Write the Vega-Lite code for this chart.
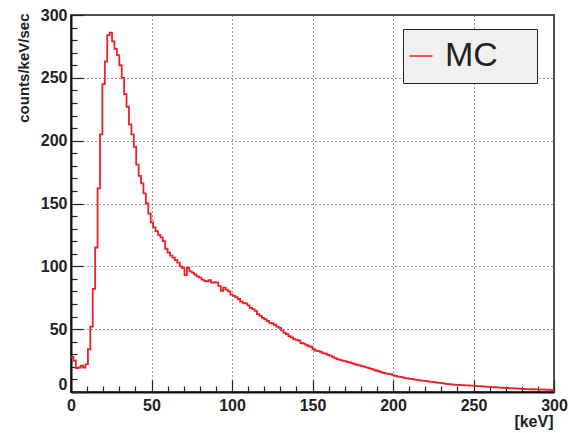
{
  "$schema": "https://vega.github.io/schema/vega-lite/v6.json",
  "width": 483,
  "height": 377,
  "autosize": {"type": "none"},
  "padding": {"left": 71, "top": 15, "right": 15, "bottom": 41},
  "background": "white",
  "config": {
    "view": {"stroke": "#555", "strokeWidth": 2},
    "font": "Liberation Sans"
  },
  "data": {
    "values": [
      {"e":0,"c":28},{"e":1.5,"c":25},{"e":3,"c":19},{"e":4.5,"c":19.5},{"e":6,"c":21},{"e":7.5,"c":19.5},{"e":9,"c":22},{"e":10.5,"c":34},{"e":12,"c":52},{"e":13.5,"c":82},
      {"e":15,"c":115},{"e":16.5,"c":162},{"e":18,"c":205},{"e":19.5,"c":245},{"e":21,"c":263},{"e":22.5,"c":284},{"e":24,"c":286},{"e":25.5,"c":279},{"e":27,"c":273},{"e":28.5,"c":268},
      {"e":30,"c":260},{"e":31.5,"c":250},{"e":33,"c":237},{"e":34.5,"c":227},{"e":36,"c":213},{"e":37.5,"c":205},{"e":39,"c":195},{"e":40.5,"c":181},{"e":42,"c":172},{"e":43.5,"c":166},
      {"e":45,"c":158},{"e":46.5,"c":150},{"e":48,"c":142},{"e":49.5,"c":135},{"e":51,"c":131},{"e":52.5,"c":128},{"e":54,"c":125},{"e":55.5,"c":123},{"e":57,"c":120},{"e":58.5,"c":114},
      {"e":60,"c":111},{"e":61.5,"c":108.5},{"e":63,"c":107},{"e":64.5,"c":105},{"e":66,"c":103},{"e":67.5,"c":100},{"e":69,"c":98.5},{"e":70.5,"c":93},{"e":72,"c":99},{"e":73.5,"c":96},
      {"e":75,"c":95},{"e":76.5,"c":93.5},{"e":78,"c":92},{"e":79.5,"c":91},{"e":81,"c":89.5},{"e":82.5,"c":88.5},{"e":84,"c":88},{"e":85.5,"c":89},{"e":87,"c":87},{"e":88.5,"c":87.5},
      {"e":90,"c":87},{"e":91.5,"c":84.5},{"e":93,"c":80.5},{"e":94.5,"c":83},{"e":96,"c":81.5},{"e":97.5,"c":80},{"e":99,"c":77.5},{"e":100.5,"c":76.5},{"e":102,"c":75.5},{"e":103.5,"c":74},
      {"e":105,"c":72},{"e":106.5,"c":71},{"e":108,"c":70.5},{"e":109.5,"c":69},{"e":111,"c":67},{"e":112.5,"c":66},{"e":114,"c":64.5},{"e":115.5,"c":62},{"e":117,"c":60.5},{"e":118.5,"c":59},
      {"e":120,"c":58},{"e":121.5,"c":56.5},{"e":123,"c":55},{"e":124.5,"c":54.5},{"e":126,"c":53.5},{"e":127.5,"c":52},{"e":129,"c":51},{"e":130.5,"c":49},{"e":132,"c":47},{"e":133.5,"c":46},
      {"e":135,"c":44.5},{"e":136.5,"c":43.5},{"e":138,"c":42},{"e":139.5,"c":41.5},{"e":141,"c":41},{"e":142.5,"c":39},{"e":144,"c":38.5},{"e":145.5,"c":37.5},{"e":147,"c":36.5},{"e":148.5,"c":36},
      {"e":150,"c":34},{"e":151.5,"c":33},{"e":153,"c":32.5},{"e":154.5,"c":32},{"e":156,"c":31},{"e":157.5,"c":30.5},{"e":159,"c":29.5},{"e":160.5,"c":29},{"e":162,"c":28},{"e":163.5,"c":27},
      {"e":165,"c":26.2},{"e":166.5,"c":25.5},{"e":168,"c":25},{"e":169.5,"c":24.5},{"e":171,"c":24},{"e":172.5,"c":23.5},{"e":174,"c":23},{"e":175.5,"c":22.2},{"e":177,"c":21.7},{"e":178.5,"c":21.2},
      {"e":180,"c":20.6},{"e":181.5,"c":20.2},{"e":183,"c":19.6},{"e":184.5,"c":19},{"e":186,"c":18.4},{"e":187.5,"c":17.8},{"e":189,"c":17.1},{"e":190.5,"c":16.5},{"e":192,"c":15.8},{"e":193.5,"c":15.2},
      {"e":195,"c":14.8},{"e":196.5,"c":14.5},{"e":198,"c":14.2},{"e":199.5,"c":13.5},{"e":201,"c":12.8},{"e":202.5,"c":12.3},{"e":204,"c":12},{"e":205.5,"c":11.6},{"e":207,"c":11.1},{"e":208.5,"c":10.8},
      {"e":210,"c":10.5},{"e":211.5,"c":10.2},{"e":213,"c":9.9},{"e":214.5,"c":9.6},{"e":216,"c":9.3},{"e":217.5,"c":9.1},{"e":219,"c":8.9},{"e":220.5,"c":8.6},{"e":222,"c":8.3},{"e":223.5,"c":8.1},
      {"e":225,"c":7.8},{"e":226.5,"c":7.5},{"e":228,"c":7.2},{"e":229.5,"c":7},{"e":231,"c":6.8},{"e":232.5,"c":6.5},{"e":234,"c":6.3},{"e":235.5,"c":6.1},{"e":237,"c":5.9},{"e":238.5,"c":5.7},
      {"e":240,"c":5.6},{"e":241.5,"c":5.5},{"e":243,"c":5.4},{"e":244.5,"c":5.3},{"e":246,"c":5.2},{"e":247.5,"c":5.1},{"e":249,"c":5},{"e":250.5,"c":4.9},{"e":252,"c":4.7},{"e":253.5,"c":4.6},
      {"e":255,"c":4.4},{"e":256.5,"c":4.3},{"e":258,"c":4.1},{"e":259.5,"c":4},{"e":261,"c":3.9},{"e":262.5,"c":3.8},{"e":264,"c":3.7},{"e":265.5,"c":3.5},{"e":267,"c":3.4},{"e":268.5,"c":3.3},
      {"e":270,"c":3.2},{"e":271.5,"c":3.1},{"e":273,"c":3},{"e":274.5,"c":2.9},{"e":276,"c":2.8},{"e":277.5,"c":2.7},{"e":279,"c":2.5},{"e":280.5,"c":2.4},{"e":282,"c":2.3},{"e":283.5,"c":2.3},
      {"e":285,"c":2.2},{"e":286.5,"c":2.2},{"e":288,"c":2.1},{"e":289.5,"c":2.1},{"e":291,"c":2},{"e":292.5,"c":2},{"e":294,"c":1.9},{"e":295.5,"c":1.8},{"e":297,"c":1.7},{"e":298.5,"c":1.6},
      {"e":300,"c":1.6}
    ]
  },
  "mark": {"type": "line", "interpolate": "step-after", "strokeWidth": 1.8, "clip": true},
  "encoding": {
    "x": {
      "field": "e", "type": "quantitative",
      "scale": {"domain": [0, 300], "nice": false, "zero": false},
      "axis": {
        "values": [0,10,20,30,40,50,60,70,80,90,100,110,120,130,140,150,160,170,180,190,200,210,220,230,240,250,260,270,280,290,300],
        "labelExpr": "datum.value % 50 === 0 ? datum.label : ''",
        "labelFlush": false,
        "labelOverlap": false,
        "labelFont": "Liberation Sans",
        "labelFontWeight": "bold",
        "labelFontSize": 16,
        "labelColor": "#222",
        "labelPadding": 17,
        "tickSize": {"expr": "datum.value % 50 === 0 ? -12 : -6"},
        "tickColor": "#222",
        "tickWidth": 1.2,
        "domainColor": "#111",
        "domainWidth": 2,
        "grid": true,
        "gridColor": "#333",
        "gridDash": [1, 3],
        "gridWidth": 1,
        "gridOpacity": {"expr": "datum.value % 50 === 0 ? 1 : 0"},
        "title": "[keV]",
        "titleFont": "Liberation Sans",
        "titleFontWeight": "bold",
        "titleFontSize": 16,
        "titleColor": "#222",
        "titleAlign": "right",
        "titleBaseline": "alphabetic",
        "titleX": 482,
        "titleY": 34
      }
    },
    "y": {
      "field": "c", "type": "quantitative",
      "scale": {"domain": [0, 300], "nice": false},
      "axis": {
        "values": [0,10,20,30,40,50,60,70,80,90,100,110,120,130,140,150,160,170,180,190,200,210,220,230,240,250,260,270,280,290,300],
        "labelExpr": "datum.value % 50 === 0 ? datum.label : ''",
        "labelFlush": false,
        "labelOverlap": false,
        "labelFont": "Liberation Sans",
        "labelFontWeight": "bold",
        "labelFontSize": 16,
        "labelColor": "#222",
        "labelPadding": 16,
        "labelBaseline": {"expr": "datum.value === 0 ? 'bottom' : 'middle'"},
        "tickSize": {"expr": "datum.value % 50 === 0 ? -12 : -6"},
        "tickColor": "#222",
        "tickWidth": 1.2,
        "domainColor": "#111",
        "domainWidth": 2,
        "grid": true,
        "gridColor": "#333",
        "gridDash": [1, 3],
        "gridWidth": 1,
        "gridOpacity": {"expr": "datum.value % 50 === 0 && datum.value > 0 ? 1 : 0"},
        "title": "counts/keV/sec",
        "titleFont": "Liberation Sans",
        "titleFontWeight": "bold",
        "titleFontSize": 15,
        "titleColor": "#222",
        "titleAngle": -90,
        "titleAlign": "right",
        "titleBaseline": "alphabetic",
        "titleX": -43,
        "titleY": -2
      }
    },
    "color": {
      "datum": "MC",
      "type": "nominal",
      "scale": {"domain": ["MC"], "range": ["#ec2229"]},
      "legend": {
        "title": null,
        "orient": "none",
        "legendX": 332,
        "legendY": 14,
        "fillColor": "#f0f0f0",
        "strokeColor": "#222",
        "cornerRadius": 0,
        "padding": 10,
        "symbolType": "stroke",
        "symbolSize": 529,
        "symbolStrokeWidth": 1.5,
        "symbolOffset": -9,
        "labelFont": "Liberation Sans",
        "labelFontSize": 34,
        "labelColor": "#222",
        "labelOffset": 7,
        "labelLimit": 300,
        "labelExpr": "datum.label + '\u00a0\u00a0\u00a0\u200b'"
      }
    }
  }
}
